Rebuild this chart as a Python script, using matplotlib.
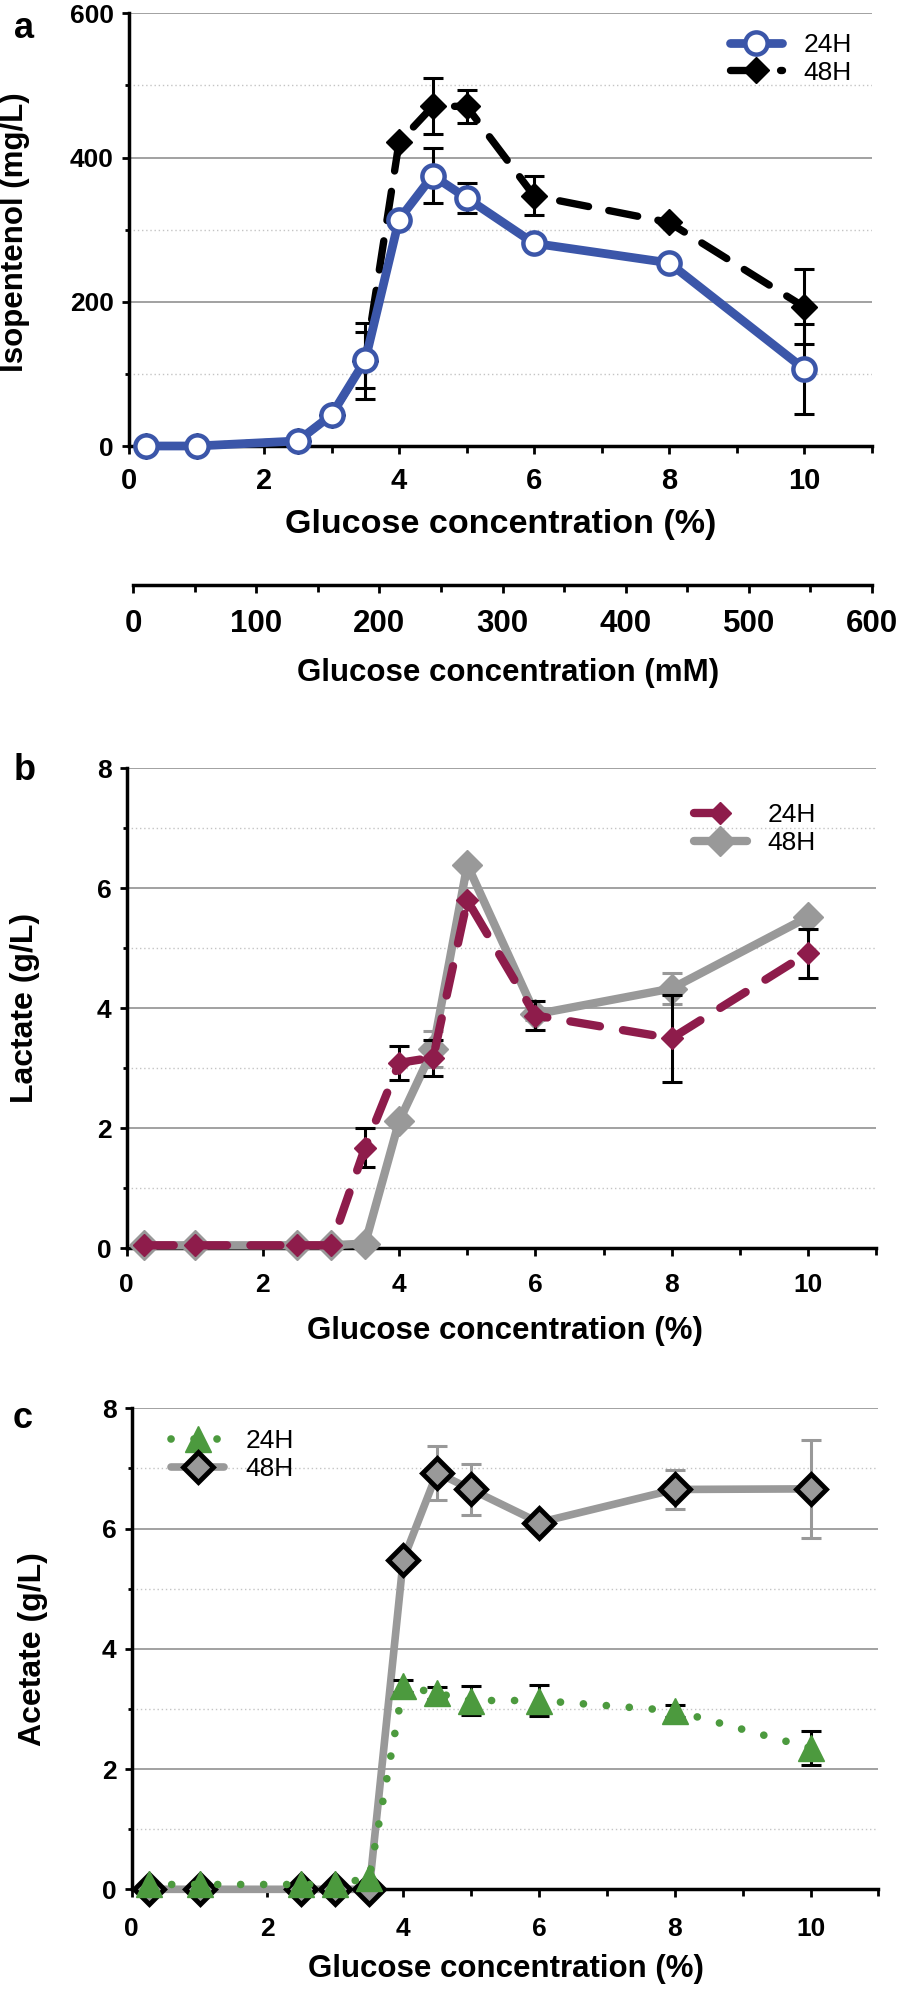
import numpy as np
import matplotlib
matplotlib.use("Agg")
import matplotlib.pyplot as plt
from matplotlib.font_manager import FontProperties

# -----------------------------
# Data
# -----------------------------
x_pct = [0.25, 1, 2.5, 3, 3.5, 4, 4.5, 5, 6, 8, 10]

iso_24 = [0, 0, 7, 43, 119, 314, 375, 344, 281, 254, 107]
iso_24_err = [0, 0, 0, 0, 39, 0, 38, 21, 0, 0, 62]
iso_48 = [0, 0, 7, 43, 118, 421, 471, 471, 347, 310, 193]
iso_48_err = [0, 0, 0, 0, 53, 0, 39, 23, 27, 0, 52]

lac_24 = [0.05, 0.05, 0.05, 0.05, 1.68, 3.09, 3.18, 5.80, 3.88, 3.50, 4.92]
lac_24_err = [0, 0, 0, 0, 0.32, 0.28, 0.30, 0, 0.24, 0.72, 0.41]
lac_48 = [0.05, 0.05, 0.05, 0.05, 0.08, 2.12, 3.33, 6.39, 3.90, 4.33, 5.52]
lac_48_err = [0, 0, 0, 0, 0, 0, 0.30, 0, 0.10, 0.26, 0]

ace_24 = [0.08, 0.08, 0.08, 0.08, 0.19, 3.38, 3.26, 3.14, 3.14, 2.97, 2.35]
ace_24_err = [0, 0, 0, 0, 0, 0.10, 0.10, 0.24, 0.26, 0.10, 0.28]
ace_48 = [0, 0, 0, 0, 0, 5.48, 6.93, 6.65, 6.10, 6.65, 6.66]
ace_48_err = [0, 0, 0, 0, 0, 0, 0.45, 0.42, 0, 0.33, 0.82]

pct_ticks = [0, 2, 4, 6, 8, 10]
pct_labels = ['0', '2', '4', '6', '8', '10']
mm_ticks = [0, 100, 200, 300, 400, 500, 600]
mm_labels = ['0', '100', '200', '300', '400', '500', '600']
iso_ticks = [0, 200, 400, 600]
iso_labels = ['0', '200', '400', '600']
gl_ticks = [0, 2, 4, 6, 8]
gl_labels = ['0', '2', '4', '6', '8']
series_labels = ['24H', '48H']

# -----------------------------
# Style
# -----------------------------
def fp(size, bold=True):
    return FontProperties(family=['Liberation Sans', 'DejaVu Sans'],
                          weight='bold' if bold else 'normal', size=size)

BLUE = '#3b56a9'
MAROON = '#8e1c4b'
GRAY = '#999999'
GREEN = '#4c9a3e'

W, H = 898, 1989
fig = plt.figure(figsize=(W / 100, H / 100), dpi=100)

def axes_px(l, t, r, b):
    return fig.add_axes([l / W, 1 - b / H, (r - l) / W, (b - t) / H])

def style(ax, ymax, yticks, ylabels, xtick_size, xpad):
    ax.set_xlim(0, 11)
    ax.set_ylim(0, ymax)
    for s in ['top', 'right']:
        ax.spines[s].set_visible(False)
    for s in ['left', 'bottom']:
        ax.spines[s].set_linewidth(2.5)
    ax.set_xticks(pct_ticks, pct_labels, fontproperties=fp(xtick_size))
    ax.set_xticks([1, 3, 5, 7, 9, 11], minor=True)
    ax.set_yticks(yticks, ylabels, fontproperties=fp(19))
    step = yticks[1] - yticks[0]
    ax.set_yticks(np.arange(step / 2, ymax, step), minor=True)
    ax.tick_params(axis='x', which='major', direction='out', length=6, width=2, pad=xpad)
    ax.tick_params(axis='x', which='minor', direction='out', length=5, width=2)
    ax.tick_params(axis='y', which='major', direction='out', length=5, width=2, pad=6)
    ax.tick_params(axis='y', which='minor', direction='out', length=3, width=2)
    ax.yaxis.grid(True, which='major', color='#9a9a9a', lw=1.3)
    ax.yaxis.grid(True, which='minor', color='#c4c4c4', lw=1.0, ls=(0, (1, 2)))
    ax.set_axisbelow(True)

def errs(ax, x, y, e, color, zorder):
    idx = [i for i, v in enumerate(e) if v > 0]
    ax.errorbar([x[i] for i in idx], [y[i] for i in idx], yerr=[e[i] for i in idx],
                fmt='none', ecolor=color, elinewidth=2.2, capsize=7, capthick=2.2,
                zorder=zorder, clip_on=False)

def legend(ax, handles, labels, anchor):
    ax.legend(handles, labels, loc='center left', bbox_to_anchor=anchor, frameon=False,
              prop=fp(19, bold=False), handlelength=2.0, handletextpad=0.8,
              labelspacing=0.15, borderpad=0, borderaxespad=0)

# -----------------------------
# Panel a: isopentenol
# -----------------------------
ax_a = axes_px(129, 13.3, 871.5, 446)
style(ax_a, 600, iso_ticks, iso_labels, 21, 9)
errs(ax_a, x_pct, iso_48, iso_48_err, 'black', 3)
l48, = ax_a.plot(x_pct, iso_48, color='black', lw=5.3, ls=(0, (4, 2.8)), marker='D', ms=13.5,
                 mfc='black', mec='black', dash_capstyle='round', clip_on=False, zorder=4)
errs(ax_a, x_pct, iso_24, iso_24_err, 'black', 5)
l24, = ax_a.plot(x_pct, iso_24, color=BLUE, lw=6.3, marker='o', ms=16, mfc='white', mec=BLUE,
                 mew=3.2, solid_capstyle='round', clip_on=False, zorder=6)
legend(ax_a, [l24, l48], series_labels, (0.809, 0.895))

# secondary mM axis
ax_mm = axes_px(133, 584.5, 872, 585)
ax_mm.set_xlim(0, 600)
ax_mm.patch.set_visible(False)
for s in ['top', 'right', 'left']:
    ax_mm.spines[s].set_visible(False)
ax_mm.spines['bottom'].set_linewidth(2.5)
ax_mm.set_yticks([])
ax_mm.set_xticks(mm_ticks, mm_labels, fontproperties=fp(22.5))
ax_mm.set_xticks(np.arange(50, 600, 100), minor=True)
ax_mm.tick_params(axis='x', which='major', direction='out', length=6, width=2, pad=11)
ax_mm.tick_params(axis='x', which='minor', direction='out', length=5, width=2)

fig.text(501 / W, 1 - 525 / H, 'Glucose concentration (%)', fontproperties=fp(24.5),
         ha='center', va='center')
fig.text(508 / W, 1 - 673 / H, 'Glucose concentration (mM)', fontproperties=fp(22.5),
         ha='center', va='center')
fig.text(15 / W, 1 - 232 / H, 'Isopentenol (mg/L)', fontproperties=fp(22.5),
         rotation=90, ha='center', va='center')
fig.text(24 / W, 1 - 29 / H, 'a', fontproperties=fp(26), ha='center', va='center')

# -----------------------------
# Panel b: lactate
# -----------------------------
ax_b = axes_px(126.7, 768.3, 876, 1248.3)
style(ax_b, 8, gl_ticks, gl_labels, 19, 12)
errs(ax_b, x_pct, lac_48, lac_48_err, GRAY, 3)
l48, = ax_b.plot(x_pct, lac_48, color=GRAY, lw=6, marker='D', ms=15, mfc=GRAY, mec=GRAY,
                 solid_capstyle='round', clip_on=False, zorder=4)
errs(ax_b, x_pct, lac_24, lac_24_err, 'black', 5)
l24, = ax_b.plot(x_pct, lac_24, color=MAROON, lw=6, ls=(0, (3.6, 2.8)), marker='D', ms=11,
                 mfc=MAROON, mec=MAROON, dash_capstyle='round', clip_on=False, zorder=6)
legend(ax_b, [l24, l48], series_labels, (0.757, 0.873))
fig.text(505 / W, 1 - 1331 / H, 'Glucose concentration (%)', fontproperties=fp(22.5),
         ha='center', va='center')
fig.text(25 / W, 1 - 1008 / H, 'Lactate (g/L)', fontproperties=fp(23),
         rotation=90, ha='center', va='center')
fig.text(25 / W, 1 - 770 / H, 'b', fontproperties=fp(26), ha='center', va='center')

# -----------------------------
# Panel c: acetate
# -----------------------------
ax_c = axes_px(131.7, 1408.3, 878.4, 1889.3)
style(ax_c, 8, gl_ticks, gl_labels, 19, 14)
errs(ax_c, x_pct, ace_48, ace_48_err, GRAY, 3)
l48, = ax_c.plot(x_pct, ace_48, color=GRAY, lw=5.5, marker='D', ms=15, mfc=GRAY, mec='black',
                 mew=3.5, solid_capstyle='round', clip_on=False, zorder=4)
errs(ax_c, x_pct, ace_24, ace_24_err, 'black', 5)
l24, = ax_c.plot(x_pct, ace_24, color=GREEN, lw=5.5, ls=(0, (0.01, 3.0)), marker='^', ms=19,
                 mfc=GREEN, mec=GREEN, dash_capstyle='round', clip_on=False, zorder=6)
legend(ax_c, [l24, l48], series_labels, (0.053, 0.902))
fig.text(506 / W, 1 - 1969 / H, 'Glucose concentration (%)', fontproperties=fp(22.5),
         ha='center', va='center')
fig.text(33 / W, 1 - 1649 / H, 'Acetate (g/L)', fontproperties=fp(23),
         rotation=90, ha='center', va='center')
fig.text(23 / W, 1 - 1419 / H, 'c', fontproperties=fp(26), ha='center', va='center')

fig.savefig('out.png', dpi=100)
